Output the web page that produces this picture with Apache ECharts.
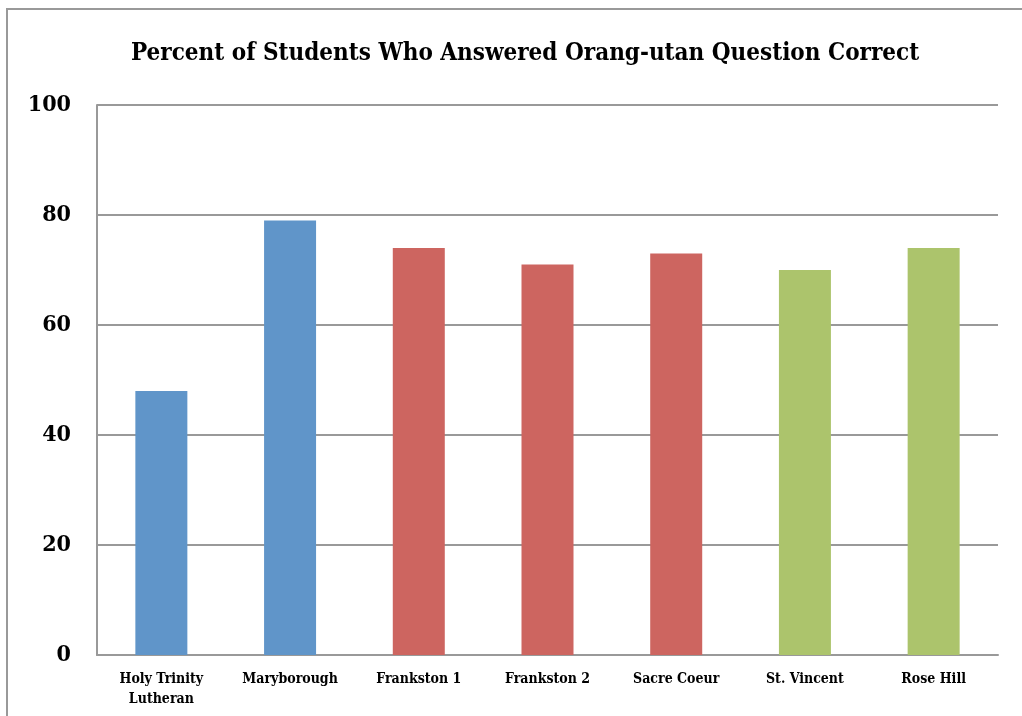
<!DOCTYPE html>
<html>
<head>
<meta charset="utf-8">
<script src="https://cdn.jsdelivr.net/npm/echarts@6/dist/echarts.min.js"></script>
<style>
  html, body { margin: 0; padding: 0; background: #fff; }
  #chart { width: 1022px; height: 716px; }
</style>
</head>
<body>
<div id="chart"></div>
<script>
// schools and percent correct
const schools = ['Holy Trinity\nLutheran', 'Maryborough', 'Frankston 1', 'Frankston 2', 'Sacre Coeur', 'St. Vincent', 'Rose Hill']
const percents = [48, 79, 74, 71, 73, 70, 74]
const barColors = ['#6095c9', '#6095c9', '#cd6560', '#cd6560', '#cd6560', '#acc46c', '#acc46c']

const chart = echarts.init(document.getElementById('chart'))

const serif = '"DejaVu Serif Condensed", "Liberation Serif", serif'

chart.setOption({
  backgroundColor: '#fff',
  animation: false,
  title: {
    text: 'Percent of Students Who Answered Orang-utan Question Correct',
    left: 126,
    top: 37,
    textStyle: {
      fontFamily: serif,
      fontWeight: 'bold',
      fontSize: 24,
      color: '#000'
    }
  },
  // outer chart frame
  graphic: [{
    type: 'rect',
    shape: { x: 7, y: 9, width: 1100, height: 800 },
    style: { fill: 'none', stroke: '#999', lineWidth: 2 },
    silent: true
  }],
  grid: {
    left: 97,
    right: 24,
    top: 105,
    bottom: 61
  },
  xAxis: {
    type: 'category',
    data: schools,
    axisLine: { lineStyle: { color: '#999', width: 2 } },
    axisTick: { show: false },
    axisLabel: {
      interval: 0,
      margin: 14,
      fontFamily: serif,
      fontWeight: 'bold',
      fontSize: 14,
      lineHeight: 20,
      color: '#000'
    }
  },
  yAxis: {
    type: 'value',
    min: 0,
    max: 100,
    interval: 20,
    axisLine: { show: true, lineStyle: { color: '#999', width: 2 } },
    axisTick: { show: false },
    axisLabel: {
      margin: 26,
      fontFamily: serif,
      fontWeight: 'bold',
      fontSize: 23,
      color: '#000'
    },
    splitLine: { lineStyle: { color: '#999', width: 2 } }
  },
  series: [{
    type: 'bar',
    barWidth: 52,
    data: percents.map((v, i) => ({ value: v, itemStyle: { color: barColors[i] } }))
  }]
})
</script>
</body>
</html>
